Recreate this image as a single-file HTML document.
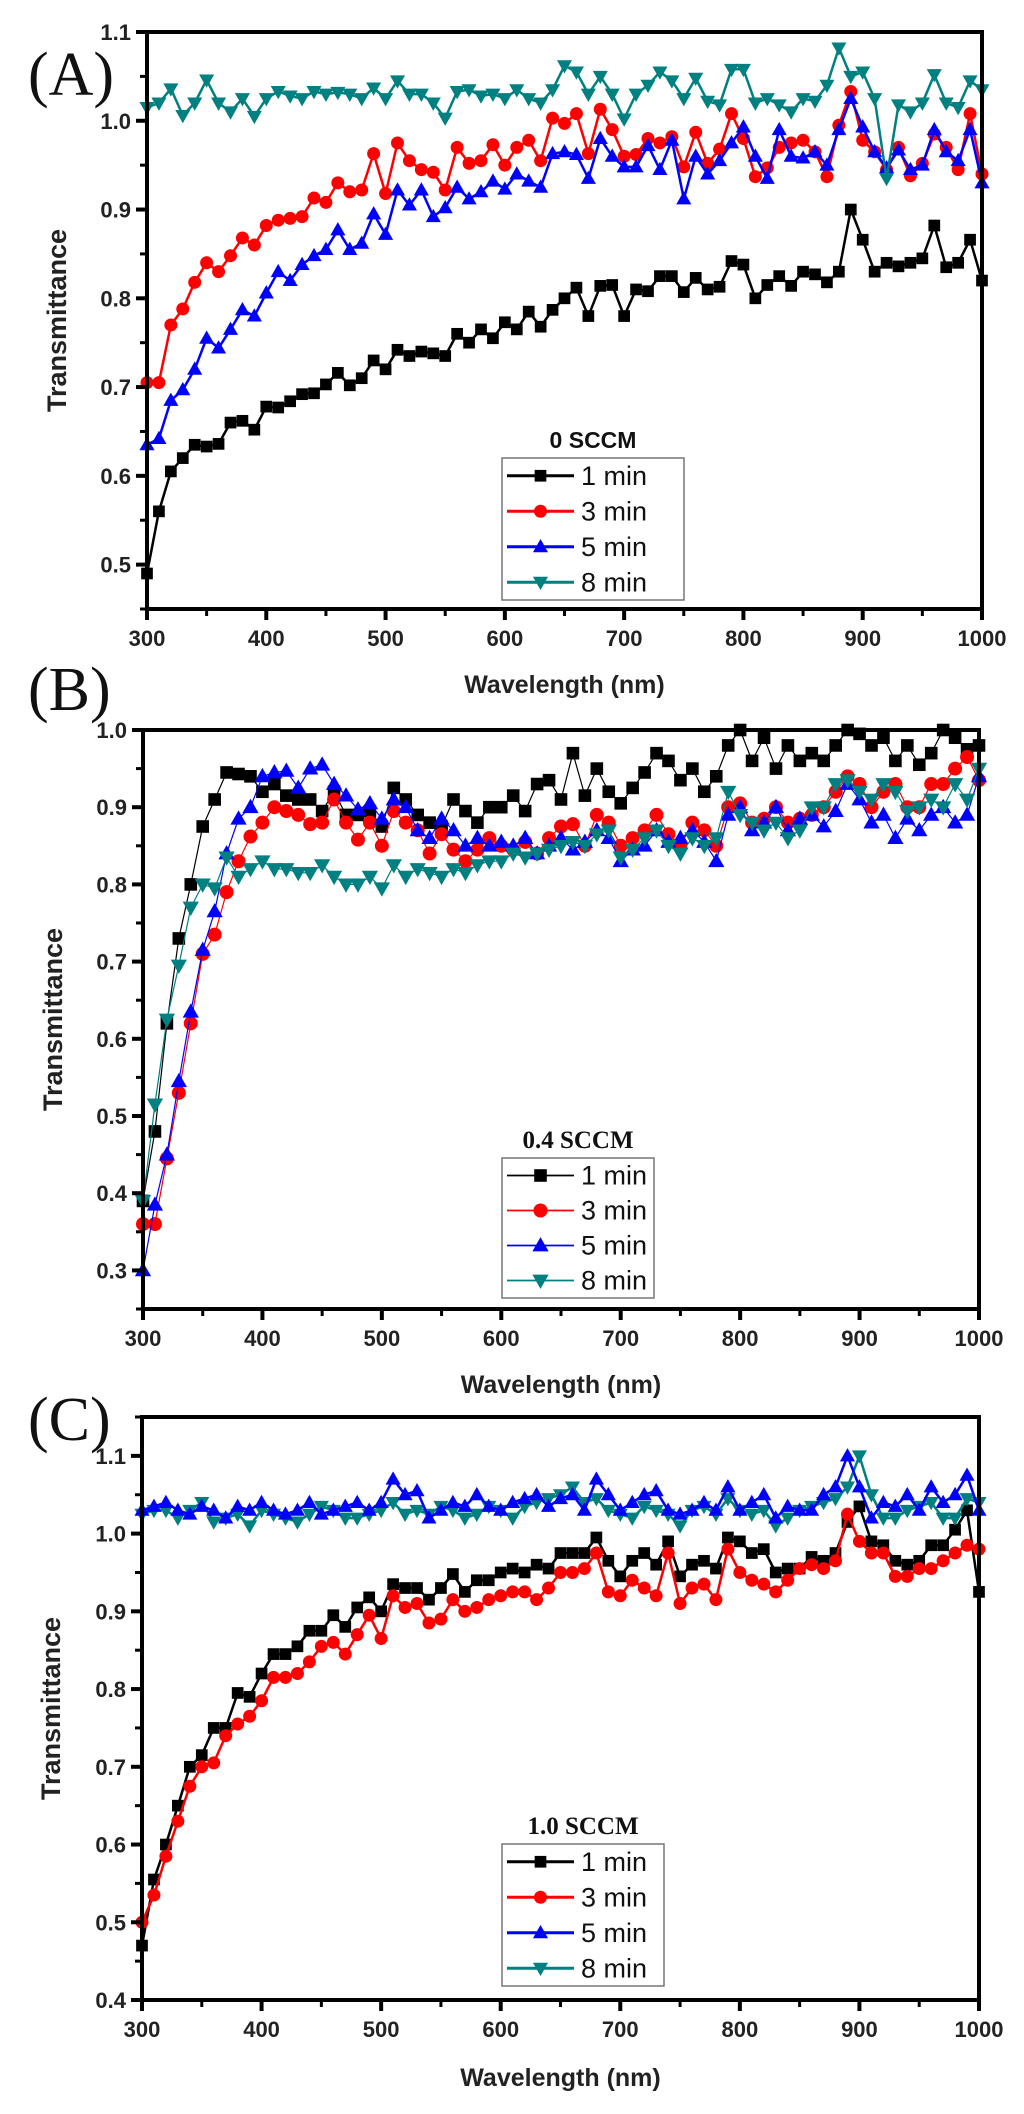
<!DOCTYPE html>
<html><head><meta charset="utf-8">
<style>
html,body{margin:0;padding:0;background:#fff;}
svg{display:block;}
</style></head>
<body>
<svg id="fig" xmlns="http://www.w3.org/2000/svg" width="1024" height="2114" viewBox="0 0 1024 2114">
</svg>
<script>
const wavelengths = [];
for (let w = 300; w <= 1000; w += 10) wavelengths.push(w);
const xTicks = [300,400,500,600,700,800,900,1000];
const seriesNames = ["1 min","3 min","5 min","8 min"];

const aBlack = [0.49,0.56,0.605,0.62,0.635,0.633,0.636,0.66,0.662,0.652,0.678,0.677,0.684,0.692,0.693,0.703,0.716,0.702,0.71,0.73,0.72,0.742,0.735,0.74,0.738,0.735,0.76,0.75,0.765,0.755,0.773,0.765,0.785,0.768,0.787,0.80,0.812,0.78,0.814,0.815,0.78,0.81,0.808,0.825,0.825,0.807,0.823,0.81,0.813,0.842,0.838,0.80,0.815,0.825,0.814,0.83,0.827,0.818,0.83,0.90,0.866,0.83,0.84,0.836,0.84,0.845,0.882,0.835,0.84,0.866,0.82];
const aRed = [0.705,0.705,0.77,0.788,0.818,0.84,0.83,0.848,0.868,0.86,0.882,0.888,0.89,0.892,0.913,0.908,0.93,0.92,0.922,0.963,0.918,0.975,0.955,0.945,0.942,0.922,0.97,0.952,0.955,0.973,0.95,0.97,0.978,0.955,1.003,0.997,1.008,0.963,1.013,0.99,0.96,0.962,0.98,0.975,0.982,0.948,0.987,0.952,0.968,1.008,0.98,0.937,0.947,0.97,0.975,0.978,0.965,0.937,0.995,1.033,0.978,0.965,0.945,0.97,0.938,0.952,0.985,0.97,0.945,1.008,0.94];
const aBlue = [0.635,0.642,0.685,0.697,0.72,0.755,0.744,0.765,0.787,0.78,0.806,0.83,0.82,0.838,0.848,0.855,0.877,0.855,0.862,0.895,0.872,0.922,0.905,0.922,0.892,0.902,0.925,0.912,0.92,0.932,0.923,0.94,0.932,0.925,0.963,0.965,0.962,0.935,0.98,0.96,0.948,0.948,0.972,0.945,0.978,0.912,0.96,0.94,0.955,0.975,0.993,0.96,0.935,0.99,0.96,0.958,0.965,0.95,0.99,1.025,0.993,0.965,0.947,0.967,0.945,0.95,0.99,0.965,0.955,0.99,0.93];
const aTeal = [1.015,1.02,1.036,1.006,1.02,1.046,1.02,1.01,1.025,1.005,1.025,1.033,1.028,1.025,1.033,1.03,1.032,1.03,1.025,1.037,1.025,1.045,1.03,1.03,1.02,1.003,1.033,1.035,1.028,1.03,1.025,1.035,1.025,1.02,1.035,1.062,1.055,1.03,1.05,1.03,1.002,1.03,1.04,1.055,1.045,1.025,1.048,1.022,1.018,1.058,1.058,1.02,1.025,1.018,1.01,1.025,1.022,1.04,1.082,1.05,1.055,1.025,0.935,1.018,1.01,1.02,1.052,1.02,1.015,1.045,1.035];

const bBlack = [0.39,0.48,0.62,0.73,0.80,0.875,0.91,0.945,0.943,0.94,0.92,0.93,0.915,0.91,0.91,0.895,0.92,0.89,0.89,0.895,0.875,0.925,0.91,0.89,0.88,0.875,0.91,0.895,0.88,0.9,0.9,0.915,0.895,0.93,0.935,0.91,0.97,0.915,0.95,0.92,0.905,0.925,0.945,0.97,0.96,0.935,0.95,0.92,0.94,0.98,1.0,0.96,0.99,0.95,0.98,0.96,0.97,0.96,0.98,1.0,0.995,0.98,0.99,0.96,0.98,0.955,0.97,1.0,0.99,0.975,0.98];
const bRed = [0.36,0.36,0.445,0.53,0.62,0.71,0.735,0.79,0.83,0.862,0.88,0.9,0.895,0.89,0.878,0.88,0.91,0.88,0.858,0.88,0.85,0.895,0.88,0.87,0.84,0.865,0.845,0.83,0.845,0.86,0.85,0.845,0.855,0.84,0.86,0.875,0.878,0.85,0.89,0.88,0.85,0.86,0.87,0.89,0.865,0.85,0.88,0.87,0.85,0.9,0.905,0.88,0.885,0.9,0.88,0.885,0.89,0.9,0.92,0.94,0.93,0.9,0.92,0.93,0.9,0.9,0.93,0.93,0.95,0.965,0.935];
const bBlue = [0.30,0.385,0.45,0.545,0.635,0.715,0.765,0.84,0.885,0.90,0.94,0.945,0.947,0.925,0.95,0.955,0.93,0.915,0.897,0.905,0.885,0.91,0.9,0.87,0.86,0.885,0.87,0.85,0.86,0.85,0.855,0.85,0.86,0.84,0.85,0.86,0.845,0.855,0.87,0.86,0.83,0.845,0.85,0.87,0.855,0.86,0.87,0.855,0.83,0.89,0.9,0.87,0.88,0.9,0.87,0.885,0.89,0.875,0.895,0.93,0.91,0.88,0.89,0.86,0.885,0.87,0.89,0.9,0.88,0.89,0.94];
const bTeal = [0.39,0.515,0.625,0.695,0.77,0.80,0.795,0.835,0.81,0.82,0.83,0.82,0.82,0.815,0.815,0.825,0.81,0.80,0.80,0.81,0.795,0.825,0.81,0.82,0.815,0.81,0.82,0.815,0.825,0.83,0.83,0.84,0.835,0.84,0.845,0.85,0.855,0.85,0.865,0.87,0.835,0.845,0.86,0.87,0.85,0.84,0.86,0.85,0.86,0.92,0.89,0.88,0.87,0.88,0.86,0.87,0.9,0.9,0.93,0.935,0.92,0.91,0.93,0.92,0.895,0.9,0.91,0.9,0.93,0.91,0.95];

const cBlack = [0.47,0.555,0.6,0.65,0.7,0.715,0.75,0.75,0.795,0.79,0.82,0.845,0.845,0.855,0.875,0.875,0.895,0.88,0.905,0.918,0.9,0.935,0.93,0.93,0.915,0.93,0.948,0.925,0.94,0.94,0.95,0.955,0.95,0.96,0.955,0.975,0.975,0.975,0.995,0.965,0.945,0.965,0.975,0.96,0.99,0.945,0.96,0.965,0.955,0.995,0.99,0.975,0.98,0.95,0.955,0.955,0.97,0.965,0.975,1.015,1.035,0.99,0.985,0.965,0.96,0.965,0.985,0.985,1.005,1.03,0.925];
const cRed = [0.5,0.535,0.585,0.63,0.675,0.7,0.705,0.74,0.755,0.765,0.785,0.815,0.815,0.82,0.835,0.855,0.86,0.845,0.87,0.895,0.865,0.92,0.905,0.91,0.885,0.89,0.915,0.9,0.905,0.915,0.92,0.925,0.925,0.915,0.93,0.95,0.95,0.955,0.975,0.925,0.92,0.94,0.93,0.92,0.975,0.91,0.93,0.935,0.915,0.98,0.95,0.94,0.935,0.925,0.94,0.955,0.96,0.955,0.965,1.025,0.99,0.975,0.975,0.945,0.945,0.955,0.955,0.965,0.975,0.985,0.98];
const cBlue = [1.03,1.035,1.04,1.03,1.025,1.035,1.03,1.02,1.035,1.03,1.04,1.03,1.025,1.03,1.04,1.025,1.03,1.035,1.04,1.03,1.04,1.07,1.05,1.055,1.02,1.03,1.04,1.035,1.05,1.035,1.03,1.04,1.045,1.05,1.035,1.045,1.05,1.03,1.07,1.05,1.03,1.04,1.05,1.055,1.03,1.025,1.03,1.04,1.03,1.06,1.03,1.04,1.05,1.02,1.035,1.03,1.03,1.05,1.06,1.1,1.06,1.02,1.04,1.035,1.05,1.03,1.06,1.04,1.05,1.075,1.03];
const cTeal = [1.025,1.03,1.03,1.02,1.03,1.04,1.015,1.02,1.025,1.01,1.03,1.025,1.02,1.015,1.025,1.035,1.03,1.02,1.02,1.025,1.03,1.04,1.025,1.03,1.025,1.035,1.03,1.02,1.025,1.035,1.03,1.02,1.035,1.04,1.045,1.05,1.06,1.04,1.045,1.03,1.025,1.02,1.035,1.03,1.025,1.01,1.03,1.035,1.025,1.045,1.03,1.025,1.03,1.01,1.02,1.03,1.035,1.04,1.045,1.06,1.1,1.05,1.02,1.02,1.03,1.035,1.04,1.02,1.02,1.045,1.04];

const aYTicks = ["0.5","0.6","0.7","0.8","0.9","1.0","1.1"];
const bYTicks = ["0.3","0.4","0.5","0.6","0.7","0.8","0.9","1.0"];
const cYTicks = ["0.4","0.5","0.6","0.7","0.8","0.9","1.0","1.1"];

const NS = "http://www.w3.org/2000/svg";
const svg = document.getElementById("fig");
const COLORS = ["#000000","#ff0000","#0000ff","#008080"];
const SHAPES = ["square","circle","up","down"];

function mk(tag, attrs, parent) {
  const e = document.createElementNS(NS, tag);
  for (const k in attrs) e.setAttribute(k, attrs[k]);
  (parent || svg).appendChild(e);
  return e;
}

function marker(g, shape, cx, cy, color, s) {
  let m;
  if (shape === "square") m = mk("rect", {x: cx - s*0.45, y: cy - s*0.45, width: s*0.9, height: s*0.9, fill: color}, g);
  else if (shape === "circle") m = mk("circle", {cx: cx, cy: cy, r: s*0.5, fill: color}, g);
  else if (shape === "up") m = mk("polygon", {points: `${cx},${cy - s*0.6} ${cx - s*0.58},${cy + s*0.42} ${cx + s*0.58},${cy + s*0.42}`, fill: color}, g);
  else m = mk("polygon", {points: `${cx},${cy + s*0.6} ${cx - s*0.58},${cy - s*0.42} ${cx + s*0.58},${cy - s*0.42}`, fill: color}, g);
  return m;
}

function panel(cfg) {
  const g = mk("g", {});
  
  
  const L = cfg.left, R = cfg.right, T = cfg.top, B = cfg.bottom;
  const xs = v => L + (v - 300) / 700 * (R - L);
  const ys = v => T + (cfg.ymax - v) / (cfg.ymax - cfg.ymin) * (B - T);

  const lt = mk("text", {x: cfg.letterX, y: cfg.letterY, "font-family": "Liberation Serif, serif", "font-size": 62, fill: "#111"}, g);
  lt.textContent = cfg.letter;
  
  

  cfg.series.forEach((vals, si) => {
    const ci = cfg.order[si];
    const sg = mk("g", {}, g);
    
    
    const pts = vals.map((v, i) => xs(wavelengths[i]).toFixed(1) + "," + ys(v).toFixed(1)).join(" ");
    const pl = mk("polyline", {points: pts, fill: "none", stroke: COLORS[ci], "stroke-width": cfg.lw, "stroke-linejoin": "round"}, sg);
    
    
    vals.forEach((v, i) => {
      const m = marker(sg, SHAPES[ci], xs(wavelengths[i]), ys(v), COLORS[ci], cfg.ms);
      
      
    });
  });

  const fr = mk("rect", {x: L, y: T, width: R - L, height: B - T, fill: "none", stroke: "#000", "stroke-width": 4}, g);
  
  

  const ay = mk("g", {}, g);
  
  
  cfg.yTicks.forEach((t, idx) => {
    const v = parseFloat(t), y = ys(v);
    mk("line", {x1: L - 11, x2: L, y1: y, y2: y, stroke: "#000", "stroke-width": 4}, ay);
    const tx = mk("text", {x: L - 16, y: y + 8, "text-anchor": "end", "font-family": "Liberation Sans, sans-serif", "font-weight": "bold", "font-size": 22, fill: "#222"}, ay);
    tx.textContent = t;
    
    
    const mv = v + 0.05;
    if (mv <= cfg.ymax + 1e-6) { const my = ys(mv); mk("line", {x1: L - 7, x2: L, y1: my, y2: my, stroke: "#000", "stroke-width": 3}, ay); }
    if (idx === 0 && v - 0.05 >= cfg.ymin - 1e-6) { const my = ys(v - 0.05); mk("line", {x1: L - 7, x2: L, y1: my, y2: my, stroke: "#000", "stroke-width": 3}, ay); }
  });
  const yt = mk("text", {x: 0, y: 0, transform: `translate(${cfg.ytitleX},${(T + B) / 2}) rotate(-90)`, "text-anchor": "middle", "font-family": "Liberation Sans, sans-serif", "font-weight": "bold", "font-size": 27, fill: "#222"}, ay);
  yt.textContent = "Transmittance";
  
  

  const ax = mk("g", {}, g);
  
  
  xTicks.forEach(t => {
    const x = xs(t);
    mk("line", {x1: x, x2: x, y1: B, y2: B + 11, stroke: "#000", "stroke-width": 4}, ax);
    if (t < 1000) { const mx = xs(t + 50); mk("line", {x1: mx, x2: mx, y1: B, y2: B + 7, stroke: "#000", "stroke-width": 3}, ax); }
    const tx = mk("text", {x: x, y: B + 37, "text-anchor": "middle", "font-family": "Liberation Sans, sans-serif", "font-weight": "bold", "font-size": 22, fill: "#222"}, ax);
    tx.textContent = t;
    
    
  });
  const xt = mk("text", {x: (L + R) / 2, y: cfg.xtitleY, "text-anchor": "middle", "font-family": "Liberation Sans, sans-serif", "font-weight": "bold", "font-size": 25, fill: "#222"}, ax);
  xt.textContent = "Wavelength (nm)";
  
  

  const lg = mk("g", {}, g);
  
  
  const ttl = mk("text", {x: cfg.leg.x + cfg.leg.w / 2, y: cfg.leg.y - 10, "text-anchor": "middle", "font-family": cfg.leg.serif ? "Liberation Serif, serif" : "Liberation Sans, sans-serif", "font-weight": "bold", "font-size": cfg.leg.serif ? 25 : 23, fill: "#111"}, lg);
  ttl.textContent = cfg.legTitle;
  
  
  mk("rect", {x: cfg.leg.x, y: cfg.leg.y, width: cfg.leg.w, height: cfg.leg.h, fill: "#fff", stroke: "#777", "stroke-width": 1.5}, lg);
  const rowH = cfg.leg.h / 4;
  seriesNames.forEach((n, i) => {
    const eg = mk("g", {}, lg);
    
    
    const cy = cfg.leg.y + rowH * (i + 0.5);
    const x0 = cfg.leg.x + 5, x1 = cfg.leg.x + 72;
    mk("line", {x1: x0, x2: x1, y1: cy, y2: cy, stroke: COLORS[i], "stroke-width": cfg.lw + 0.5}, eg);
    marker(eg, SHAPES[i], (x0 + x1) / 2, cy, COLORS[i], cfg.ms);
    const tx = mk("text", {x: x1 + 7, y: cy + 9, "font-family": "Liberation Sans, sans-serif", "font-size": 27, fill: "#111"}, eg);
    tx.textContent = n;
  });
}

panel({name: "panel-a-0-sccm", letter: "(A)", letterX: 28, letterY: 95, left: 147, right: 982, top: 32, bottom: 609, ymin: 0.45, ymax: 1.1,
  yTicks: aYTicks, series: [aBlack, aRed, aBlue, aTeal], order: [0,1,2,3], lw: 2.5, ms: 13, ytitleX: 66, xtitleY: 693,
  legTitle: "0 SCCM", leg: {x: 502, y: 458, w: 182, h: 142, serif: false}});
panel({name: "panel-b-0.4-sccm", letter: "(B)", letterX: 28, letterY: 710, left: 143, right: 979, top: 730, bottom: 1309, ymin: 0.25, ymax: 1.0,
  yTicks: bYTicks, series: [bBlack, bRed, bBlue, bTeal], order: [0,1,2,3], lw: 1.2, ms: 14, ytitleX: 62, xtitleY: 1393,
  legTitle: "0.4 SCCM", leg: {x: 502, y: 1158, w: 152, h: 140, serif: true}});
panel({name: "panel-c-1.0-sccm", letter: "(C)", letterX: 28, letterY: 1440, left: 142, right: 979, top: 1417, bottom: 2000, ymin: 0.4, ymax: 1.15,
  yTicks: cYTicks, series: [cBlack, cRed, cTeal, cBlue], order: [0,1,3,2], lw: 2.5, ms: 13, ytitleX: 60, xtitleY: 2086,
  legTitle: "1.0 SCCM", leg: {x: 502, y: 1844, w: 162, h: 142, serif: true}});
</script>
</body></html>
